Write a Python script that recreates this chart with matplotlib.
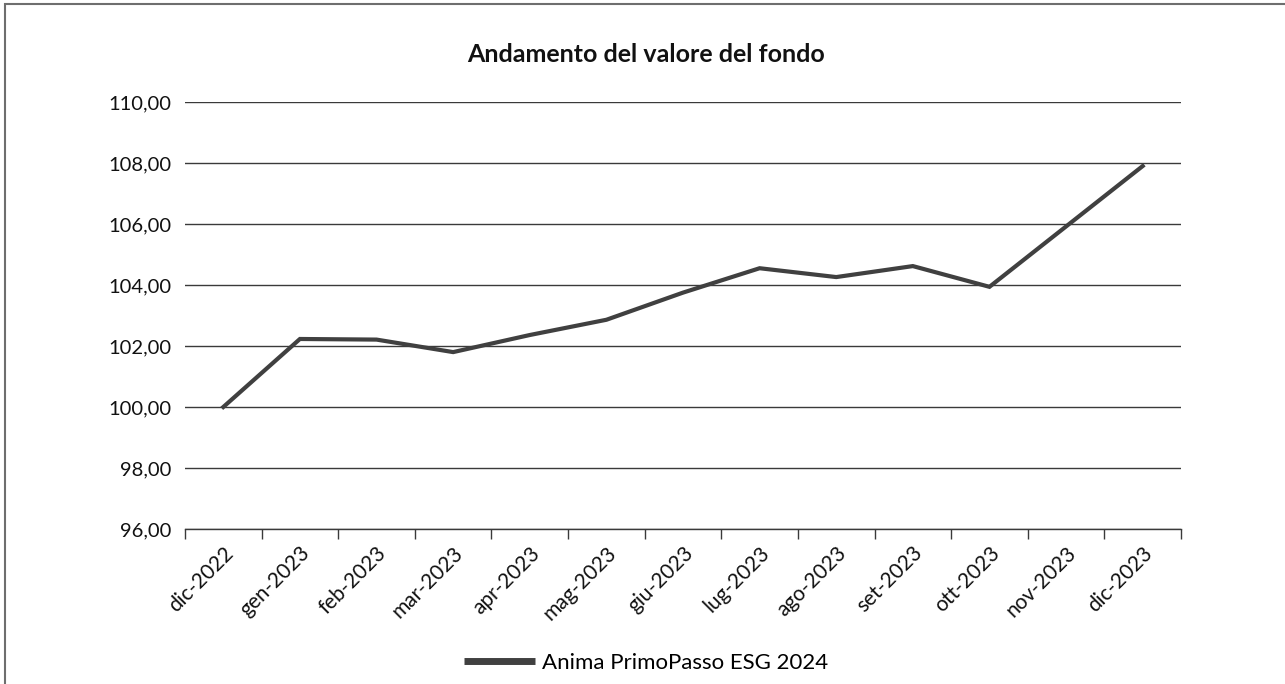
import matplotlib
matplotlib.use("Agg")
import matplotlib.pyplot as plt
import matplotlib.transforms as mtransforms
from matplotlib.ticker import FixedLocator, FuncFormatter
from matplotlib.patches import Rectangle
from matplotlib.lines import Line2D

plt.rcParams['font.family'] = ['Lato', 'DejaVu Sans']

categories = ["dic-2022", "gen-2023", "feb-2023", "mar-2023", "apr-2023", "mag-2023",
              "giu-2023", "lug-2023", "ago-2023", "set-2023", "ott-2023", "nov-2023", "dic-2023"]
values = [100.00, 102.23, 102.21, 101.80, 102.36, 102.86, 103.75, 104.55,
          104.26, 104.62, 103.94, 105.92, 107.90]
series_name = "Anima PrimoPasso ESG 2024"
title = "Andamento del valore del fondo"
y_ticks = [96, 98, 100, 102, 104, 106, 108, 110]

fig = plt.figure(figsize=(12.85, 6.84), dpi=100)
ax = fig.add_axes([185/1285, 1-529/684, (1181-185)/1285, (529-102)/684])

x = list(range(len(categories)))
line, = ax.plot(x, values, color='#404040', lw=3.0, solid_joinstyle='miter', zorder=3)

ax.set_xlim(-0.5, len(categories) - 0.5)
ax.set_ylim(96, 110)
ax.set_yticks(y_ticks)
ax.yaxis.set_major_formatter(FuncFormatter(lambda v, p: f"{v:.2f}".replace('.', ',')))
ax.grid(axis='y', color='#3a3a3a', lw=1.0, zorder=1)
ax.set_axisbelow(True)

for s in ['left', 'right', 'top']:
    ax.spines[s].set_visible(False)
ax.spines['bottom'].set_color('#3a3a3a')
ax.spines['bottom'].set_linewidth(1.0)

ax.tick_params(axis='y', length=0, pad=10, labelsize=14.5, labelcolor='#111111')
ax.set_xticks(x)
ax.set_xticklabels(categories, rotation=45, ha='right', va='center',
                   rotation_mode='anchor', fontsize=15, color='#111111')
ax.xaxis.set_minor_locator(FixedLocator([i - 0.5 for i in range(len(categories) + 1)]))
ax.tick_params(axis='x', which='major', length=0, pad=15)
ax.tick_params(axis='x', which='minor', length=7, width=1.0, color='#3a3a3a', direction='out')

offset = mtransforms.ScaledTranslation(7/100, 0, fig.dpi_scale_trans)
for lbl in ax.get_xticklabels():
    lbl.set_transform(lbl.get_transform() + offset)

fig.text(646/1285, 1-55/684, title, ha='center', va='center', fontsize=18,
         fontweight='bold', color='#111111')

handle = Line2D([0], [0], color='#404040', lw=5.0, solid_capstyle='butt')
fig.legend([handle], [series_name], loc='center', bbox_to_anchor=(646/1285, 1-663/684),
           frameon=False, fontsize=16, handlelength=3.2, handletextpad=0.3)

fig.patches.append(Rectangle((5/1285, -0.05), 1.1, 1-4/684+0.05, transform=fig.transFigure,
                             fill=False, edgecolor='#6e6e6e', lw=1.5, zorder=0))

fig.savefig("out.png", dpi=100)
